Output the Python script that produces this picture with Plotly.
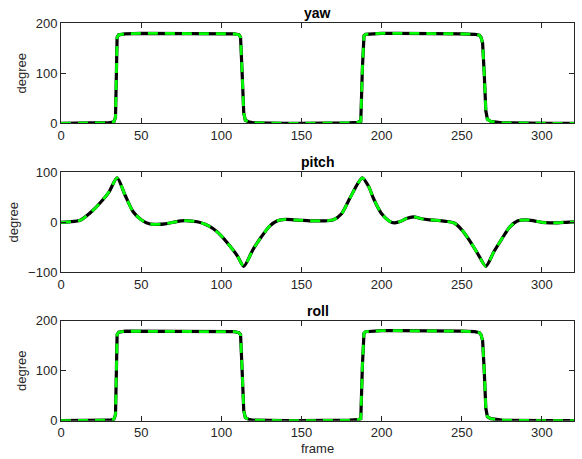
import plotly.graph_objects as go

# ---- data ----
yaw_frames = [0, 10, 20, 30, 33, 34, 35, 36, 40, 50, 60, 70, 80, 90, 100, 108, 111, 112, 113, 114, 115, 117, 120, 130,
              140, 150, 160, 170, 180, 185, 187, 188, 189, 190, 200, 210, 220, 230, 240, 250, 258, 261, 262, 263, 264,
              265, 266, 268, 275, 290, 305, 320]
yaw_vals = [0, 1, 1, 1, 3, 12, 172, 177, 179, 180, 180, 180, 180, 180, 179, 179, 177, 172, 100, 20, 6, 3, 1, 0,
            0, 0, 0, 1, 1, 2, 4, 110, 175, 178, 180, 180, 180, 180, 180, 179, 178, 176, 172, 160, 100,
            25, 8, 4, 1, 0, 0, 0]

roll_frames = [0, 10, 20, 30, 33, 34, 35, 36, 40, 50, 60, 70, 80, 90, 100, 108, 111, 112, 113, 114, 115, 117, 120, 130,
               140, 150, 160, 170, 180, 185, 187, 188, 189, 190, 200, 210, 220, 230, 240, 250, 258, 261, 262, 263, 264,
               265, 266, 268, 275, 290, 305, 320]
roll_vals = [0, 0, 0, 1, 3, 12, 172, 177, 179, 179, 179, 179, 179, 179, 178, 178, 176, 172, 100, 20, 6, 3, 1, 0,
             0, 0, 0, 0, 1, 2, 4, 110, 175, 178, 180, 180, 180, 180, 180, 179, 178, 176, 172, 160, 100,
             25, 8, 4, 1, 0, 0, 0]

pitch_frames = [0, 5, 12, 20, 25, 30, 35, 40, 45, 50, 55, 60, 65, 70, 75, 80, 85, 90, 95, 100, 105, 110, 114,
                120, 125, 130, 135, 140, 145, 150, 155, 160, 165, 170, 175, 180, 185, 188, 192, 195, 200, 205, 208,
                212, 215, 220, 225, 230, 235, 240, 245, 250, 255, 260, 265, 270, 275, 280, 285, 290, 295, 300, 305,
                310, 315, 320]
pitch_vals = [0, 1, 4, 24, 41, 61, 89, 54, 21, 5, -3, -4, -3, 0, 3, 3, 1, -4, -13, -27, -46, -67, -88,
              -53, -29, -8, 3, 6, 5, 4, 3, 3, 3, 5, 17, 47, 77, 89, 71, 47, 17, 2, -1,
              2, 7, 11, 7, 5, 4, 2, -1, -15, -37, -63, -88, -59, -33, -9, 3, 5, 3, 0, -1,
              -1, 0, 1]

x_ticks = [0, 50, 100, 150, 200, 250, 300]
titles = ["yaw", "pitch", "roll"]

W = 582
H = 459

fig = go.Figure()

panels = [(yaw_frames, yaw_vals), (pitch_frames, pitch_vals), (roll_frames, roll_vals)]
y_px = [(23.3, 123.3), (172.3, 272.3), (320.7, 420.7)]
x_px = (61, 574)
y_ranges = [[0, 200], [-100, 100], [0, 200]]
y_ticks = [[0, 100, 200], [-100, 0, 100], [0, 100, 200]]

for i, (fx, fy) in enumerate(panels):
    sfx = "" if i == 0 else str(i + 1)
    shape = "spline" if i == 1 else "linear"
    fig.add_trace(go.Scatter(x=fx, y=fy, mode="lines", line=dict(color="black", width=3.2, shape=shape, smoothing=0.7),
                             xaxis="x" + sfx, yaxis="y" + sfx, showlegend=False))
    fig.add_trace(go.Scatter(x=fx, y=fy, mode="lines",
                             line=dict(color="#00ff00", width=2.8, dash="10px,7px", shape=shape, smoothing=0.7),
                             xaxis="x" + sfx, yaxis="y" + sfx, showlegend=False))

axis_common = dict(showgrid=False, zeroline=False, showline=True, linecolor="#262626", linewidth=1,
                   mirror="ticks", ticks="inside", ticklen=5, tickcolor="#262626", automargin=False,
                   tickfont=dict(family="Liberation Sans, Arial, sans-serif", size=13, color="#262626"))

layout = dict(width=W, height=H, margin=dict(l=0, r=0, t=0, b=0, autoexpand=False),
              paper_bgcolor="white", plot_bgcolor="white",
              font=dict(family="Liberation Sans, Arial, sans-serif", color="#262626"))
annotations = []
x0 = x_px[0] / W
x1 = x_px[1] / W
for i in range(3):
    sfx = "" if i == 0 else str(i + 1)
    top, bot = y_px[i]
    xa = dict(axis_common, domain=[x0, x1], range=[0, 320], tickvals=x_ticks,
              anchor="y" + sfx)
    ya = dict(axis_common, domain=[1 - bot / H, 1 - top / H], range=y_ranges[i], tickvals=y_ticks[i],
              anchor="x" + sfx,
              title=dict(text="degree", font=dict(size=13, color="#262626"), standoff=6))
    if i == 2:
        xa["title"] = dict(text="frame", font=dict(size=13, color="#262626"), standoff=4)
    layout["xaxis" + sfx] = xa
    layout["yaxis" + sfx] = ya
    annotations.append(dict(text="<b>" + titles[i] + "</b>", x=(x0 + x1) / 2, y=1 - top / H,
                            xref="paper", yref="paper", xanchor="center", yanchor="bottom",
                            showarrow=False, font=dict(size=14, color="black")))
layout["annotations"] = annotations
fig.update_layout(**layout)
fig.write_html("out.html", config={"displayModeBar": False},
               post_script="document.body.style.margin='0';document.body.style.overflow='hidden';")
